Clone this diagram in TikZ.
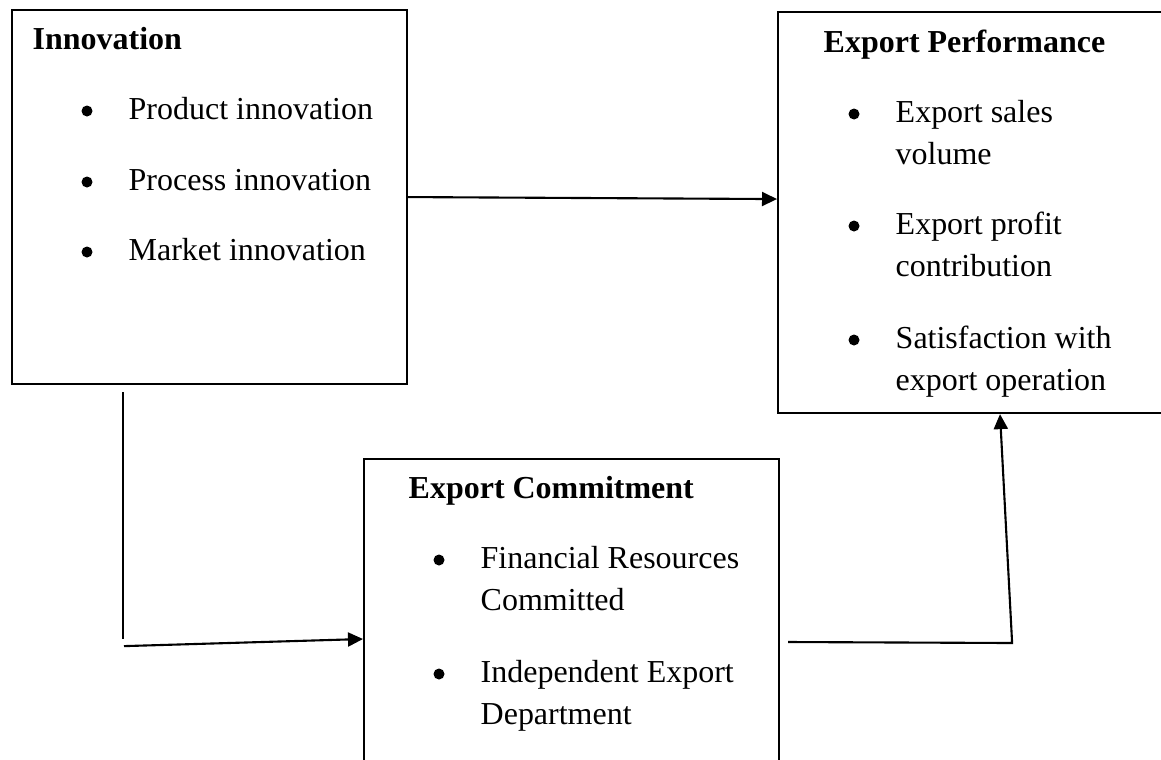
\documentclass[tikz,border=0pt]{standalone}
\usepackage{fontspec}
\setmainfont{Liberation Serif}
\usetikzlibrary{arrows.meta,positioning}

\begin{document}
\begin{tikzpicture}[
    box/.style={draw, line width=0.6pt, rectangle, inner sep=0pt, anchor=north west},
    head/.style={font=\fontsize{9.1}{11.9}\selectfont\bfseries, inner sep=0pt, anchor=base west},
    entry/.style={font=\fontsize{9.1}{11.9}\selectfont, align=left, inner sep=0pt, anchor=base west},
    dot/.style={circle, fill, inner sep=0pt, minimum size=0.11cm},
    link/.style={line width=0.6pt},
    arrow/.style={link, -{Triangle[length=1.5mm, width=1.4mm]}}
]
\useasboundingbox (0,0) rectangle (11.61,-7.59);

% Boxes
\node[box, minimum width=3.95cm, minimum height=3.74cm] (innov) at (0.11,-0.09) {};
\node[box, minimum width=3.95cm, minimum height=4.01cm] (perf) at (7.77,-0.11) {};
\node[box, minimum width=4.15cm, minimum height=3.20cm] (commit) at (3.63,-4.58) {};

% Innovation
\node[head] (innovhead) at ([shift={(0.21,-0.40)}]innov.north west) {Innovation};
\node[entry] (innov1) at ([shift={(1.17,-1.10)}]innov.north west) {Product innovation};
\node[entry] (innov2) at ([shift={(1.17,-1.81)}]innov.north west) {Process innovation};
\node[entry] (innov3) at ([shift={(1.17,-2.51)}]innov.north west) {Market innovation};
\node[dot] (innov1dot) at ([shift={(-0.41,0.08)}]innov1.base west) {};
\node[dot] (innov2dot) at ([shift={(-0.41,0.08)}]innov2.base west) {};
\node[dot] (innov3dot) at ([shift={(-0.41,0.08)}]innov3.base west) {};

% Export Performance (two-line entries sit on their last line)
\node[head] (perfhead) at ([shift={(0.46,-0.41)}]perf.north west) {Export Performance};
\node[entry] (perf1) at ([shift={(1.18,-1.53)}]perf.north west) {Export sales\\volume};
\node[entry] (perf2) at ([shift={(1.18,-2.65)}]perf.north west) {Export profit\\contribution};
\node[entry] (perf3) at ([shift={(1.18,-3.79)}]perf.north west) {Satisfaction with\\export operation};
\node[dot] (perf1dot) at ([shift={(-0.41,0.50)}]perf1.base west) {};
\node[dot] (perf2dot) at ([shift={(-0.41,0.50)}]perf2.base west) {};
\node[dot] (perf3dot) at ([shift={(-0.41,0.50)}]perf3.base west) {};

% Export Commitment
\node[head] (commithead) at ([shift={(0.45,-0.40)}]commit.north west) {Export Commitment};
\node[entry] (commit1) at ([shift={(1.17,-1.52)}]commit.north west) {Financial Resources\\Committed};
\node[entry] (commit2) at ([shift={(1.17,-2.66)}]commit.north west) {Independent Export\\Department};
\node[dot] (commit1dot) at ([shift={(-0.41,0.50)}]commit1.base west) {};
\node[dot] (commit2dot) at ([shift={(-0.41,0.50)}]commit2.base west) {};

% Innovation -> Export Performance
\draw[arrow] (innov.east) -- ([yshift=-0.02cm]perf.west |- innov.east);

% Innovation -> Export Commitment (drawn as two strokes)
\coordinate (drop) at ([shift={(1.12,-0.07)}]innov.south west);
\coordinate (corner) at ([yshift=-2.47cm]drop);
\coordinate (start) at ([shift={(0.01,-0.07)}]corner);
\draw[link] (drop) -- (corner);
\draw[arrow] (start) -- ([yshift=-1.81cm]commit.north west);

% Export Commitment -> Export Performance
\coordinate (exit) at ([shift={(0.08,-1.84)}]commit.north east);
\coordinate (bend) at ([shift={(2.24,-0.01)}]exit);
\draw[arrow] (exit) -- (bend) -- ([xshift=2.23cm]perf.south west);

\end{tikzpicture}
\end{document}
